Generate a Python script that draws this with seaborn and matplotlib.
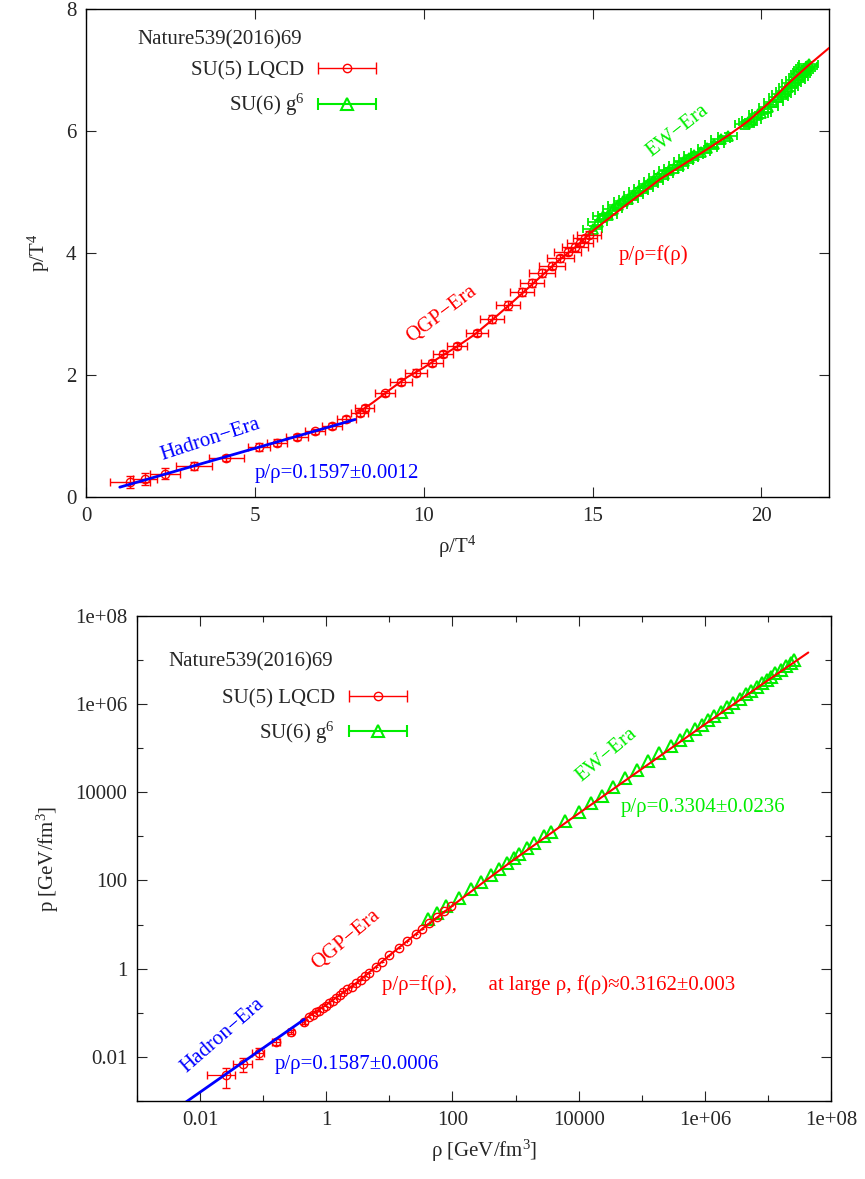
import numpy as np
import seaborn as sns
import matplotlib.pyplot as plt
from matplotlib.container import ErrorbarContainer
from matplotlib.legend_handler import HandlerErrorbar

# ---------------- top panel: p/T^4 vs rho/T^4 ----------------
lqcd_rho = [1.30, 1.75, 2.34, 3.20, 4.15, 5.12, 5.65, 6.25, 6.78, 7.28, 7.70, 8.10,
            8.25, 8.85, 9.33, 9.77, 10.25, 10.57, 10.99, 11.58, 12.02, 12.50, 12.91,
            13.21, 13.50, 13.80, 14.04, 14.27, 14.48, 14.63, 14.78, 14.90]
lqcd_p = [0.25, 0.30, 0.38, 0.51, 0.64, 0.82, 0.89, 0.98, 1.08, 1.17, 1.28, 1.38,
          1.46, 1.70, 1.88, 2.04, 2.20, 2.35, 2.48, 2.69, 2.92, 3.14, 3.36,
          3.51, 3.67, 3.79, 3.91, 4.02, 4.10, 4.17, 4.24, 4.30]
lqcd_rho_err = [0.60, 0.35, 0.45, 0.52, 0.52, 0.32, 0.30, 0.32, 0.30, 0.30, 0.28, 0.25,
                0.28, 0.30, 0.32, 0.32, 0.32, 0.30, 0.30, 0.32, 0.36, 0.36, 0.35,
                0.35, 0.38, 0.38, 0.40, 0.40, 0.38, 0.38, 0.35, 0.35]
lqcd_p_err = [0.10, 0.10, 0.09, 0.07, 0.05, 0.07, 0.06, 0.05, 0.04, 0.05, 0.05, 0.05,
              0.05, 0.04, 0.05, 0.05, 0.05, 0.05, 0.05, 0.05, 0.07, 0.07, 0.06,
              0.06, 0.06, 0.06, 0.06, 0.06, 0.06, 0.06, 0.06, 0.06]

g6_rho = [15.0, 15.15, 15.3, 15.45, 15.6, 15.75, 15.9, 16.05, 16.2, 16.35, 16.5, 16.65,
          16.8, 16.95, 17.1, 17.25, 17.4, 17.55, 17.7, 17.85, 18.0, 18.2, 18.4, 18.6,
          18.8, 19.0, 19.5, 19.6, 19.7, 19.9, 20.0, 20.2, 20.35, 20.5, 20.6, 20.7,
          20.8, 20.9, 21.0, 21.1, 21.15, 21.2, 21.25, 21.3, 21.35, 21.4]
g6_p = [4.40, 4.50, 4.60, 4.62, 4.72, 4.78, 4.85, 4.88, 4.95, 5.02, 5.06, 5.13,
        5.18, 5.25, 5.30, 5.36, 5.40, 5.45, 5.50, 5.55, 5.60, 5.66, 5.72, 5.78,
        5.86, 5.92, 6.12, 6.15, 6.18, 6.27, 6.30, 6.40, 6.47, 6.55, 6.60, 6.65,
        6.72, 6.78, 6.83, 6.88, 6.93, 6.96, 7.00, 7.03, 7.06, 7.09]
g6_rho_err = 0.28
g6_p_err = 0.04

fit_rho = [8.0, 8.5, 9.0, 9.5, 10.0, 10.5, 11.0, 11.5, 12.0, 12.5, 13.0, 13.5, 14.0,
           14.5, 15.0, 16.0, 17.0, 18.0, 19.0, 19.6, 20.2, 20.8, 21.4, 22.0]
fit_p = [1.36, 1.55, 1.76, 1.96, 2.12, 2.30, 2.47, 2.66, 2.89, 3.13, 3.38, 3.63, 3.88,
         4.10, 4.36, 4.79, 5.21, 5.56, 5.92, 6.16, 6.45, 6.78, 7.08, 7.36]
hadron_rho = [1.0, 7.97]
hadron_p = [0.16, 1.27]

# ---------------- bottom panel: p vs rho in GeV/fm^3 (read in decades) ----------------
lq_err_logrho = np.array([-1.594, -1.325, -1.07, -0.80, -0.567, -0.36])
lq_err_logp = np.array([-2.41, -2.16, -1.91, -1.66, -1.43, -1.21])
lq_err_xlo = np.array([0.29, 0.16, 0.10, 0.06, 0.04, 0.03])
lq_err_xhi = np.array([0.15, 0.14, 0.09, 0.06, 0.04, 0.03])
lq_err_ylo = np.array([0.30, 0.18, 0.14, 0.08, 0.05, 0.04])
lq_err_yhi = np.array([0.16, 0.14, 0.11, 0.07, 0.05, 0.04])

lq_logrho = np.array([-0.27, -0.21, -0.16, -0.11, -0.06, 0.00, 0.05, 0.10, 0.155, 0.21,
                      0.26, 0.33, 0.40, 0.47, 0.55, 0.62, 0.68, 0.79, 0.89, 1.00,
                      1.155, 1.28, 1.42, 1.52, 1.63, 1.75, 1.87, 1.98])
lq_logp = np.array([-1.09, -1.04, -0.99, -0.95, -0.90, -0.84, -0.78, -0.73, -0.67, -0.60,
                    -0.53, -0.47, -0.41, -0.33, -0.25, -0.17, -0.10, 0.03, 0.15, 0.30,
                    0.47, 0.62, 0.78, 0.91, 1.04, 1.17, 1.30, 1.42])
lq_dec_err = 0.03

ew_logrho = np.array([1.62, 1.75, 1.90, 2.10, 2.29, 2.45, 2.61, 2.73, 2.86, 2.98, 3.05,
                      3.18, 3.30, 3.45, 3.56, 3.79, 4.00, 4.20, 4.37, 4.55, 4.74, 4.92,
                      5.10, 5.28, 5.47, 5.60, 5.72, 5.85, 5.95, 6.05, 6.15, 6.25, 6.35,
                      6.45, 6.55, 6.65, 6.73, 6.82, 6.90, 6.98, 7.05, 7.12, 7.20, 7.28,
                      7.36, 7.42])
ew_logp = np.array([1.12, 1.26, 1.42, 1.61, 1.80, 1.96, 2.12, 2.26, 2.40, 2.52, 2.60,
                    2.73, 2.86, 3.00, 3.10, 3.34, 3.55, 3.75, 3.92, 4.12, 4.32, 4.50,
                    4.70, 4.88, 5.06, 5.19, 5.30, 5.43, 5.53, 5.63, 5.73, 5.83, 5.93,
                    6.02, 6.12, 6.22, 6.30, 6.39, 6.47, 6.55, 6.62, 6.70, 6.78, 6.86,
                    6.94, 7.00])

fit_logrho = np.array([-0.35, 0.0, 0.5, 1.0, 1.5, 2.0, 2.5, 3.0, 4.0, 5.0, 6.0, 7.0, 7.64])
fit_logp = np.array([-1.15, -0.82, -0.30, 0.30, 0.88, 1.43, 1.97, 2.50, 3.52, 4.53, 5.54,
                     6.54, 7.17])
hadron_logrho = np.array([-2.5, -0.35])
hadron_logp = np.array([-3.30, -1.15])

RED = "#ff0000"
GREEN = "#00ee00"
BLUE = "#0000ff"
FS = 15

sns.set_style("ticks")
plt.rcParams["font.family"] = ["Liberation Serif", "DejaVu Serif"]
plt.rcParams["mathtext.default"] = "regular"
plt.rcParams["font.size"] = FS

fig = plt.figure(figsize=(8.65, 11.79), dpi=100)
ax1 = fig.add_axes([0.0994, 0.5785, 0.859, 0.4139])
ax2 = fig.add_axes([0.1584, 0.0662, 0.8023, 0.4114])

for ax in (ax1, ax2):
    ax.tick_params(direction="in", top=True, right=True, length=7, width=0.8,
                   labelsize=FS, pad=7)
    ax.tick_params(which="minor", direction="in", top=True, right=True, length=4, width=0.8)
    for sp in ax.spines.values():
        sp.set_linewidth(1.0)
        sp.set_color("black")

# ---- top ----
ax1.errorbar(lqcd_rho, lqcd_p, xerr=lqcd_rho_err, yerr=lqcd_p_err, fmt="o", color=RED,
             mfc="none", ms=6, mew=1.0, elinewidth=1.0, capsize=3, zorder=3)
ax1.errorbar(g6_rho, g6_p, xerr=g6_rho_err, yerr=g6_p_err, fmt="^", color=GREEN,
             mfc="none", ms=7, mew=1.3, elinewidth=1.2, capsize=3, zorder=2)
sns.lineplot(x=fit_rho, y=fit_p, ax=ax1, color=RED, lw=1.5, sort=False, estimator=None, zorder=4)
sns.lineplot(x=hadron_rho, y=hadron_p, ax=ax1, color=BLUE, lw=2.0, sort=False, estimator=None, zorder=4)

ax1.set_xlim(0, 22)
ax1.set_ylim(0, 8)
ax1.set_xticks([0, 5, 10, 15, 20])
ax1.set_yticks([0, 2, 4, 6, 8])
ax1.set_xlabel(r"ρ/T$^{4}$", fontsize=FS, labelpad=6)
ax1.set_ylabel(r"p/T$^{4}$", fontsize=FS, labelpad=10)

ax1.text(3.67, 0.94, "Hadron−Era", color=BLUE, rotation=18, rotation_mode="anchor",
         ha="center", va="center", fontsize=FS)
ax1.text(5.0, 0.38, "p/ρ=0.1597±0.0012", color=BLUE, ha="left", va="center", fontsize=FS)
ax1.text(10.54, 2.99, "QGP−Era", color=RED, rotation=37, rotation_mode="anchor",
         ha="center", va="center", fontsize=FS)
ax1.text(16.8, 3.97, "p/ρ=f(ρ)", color=RED, ha="center", va="center", fontsize=FS)
ax1.text(17.5, 6.0, "EW−Era", color=GREEN, rotation=38, rotation_mode="anchor",
         ha="center", va="center", fontsize=FS)

# ---- bottom ----
ax2.set_xscale("log")
ax2.set_yscale("log")
c_rho = 10 ** lq_err_logrho
c_p = 10 ** lq_err_logp
xerr = [c_rho - 10 ** (lq_err_logrho - lq_err_xlo), 10 ** (lq_err_logrho + lq_err_xhi) - c_rho]
yerr = [c_p - 10 ** (lq_err_logp - lq_err_ylo), 10 ** (lq_err_logp + lq_err_yhi) - c_p]
ax2.errorbar(c_rho, c_p, xerr=xerr, yerr=yerr, fmt="o", color=RED, mfc="none", ms=6,
             mew=1.0, elinewidth=0.9, capsize=3, zorder=3)
d_rho = 10 ** lq_logrho
d_p = 10 ** lq_logp
ax2.errorbar(d_rho, d_p,
             xerr=[d_rho - 10 ** (lq_logrho - lq_dec_err), 10 ** (lq_logrho + lq_dec_err) - d_rho],
             yerr=[d_p - 10 ** (lq_logp - lq_dec_err), 10 ** (lq_logp + lq_dec_err) - d_p],
             fmt="o", color=RED, mfc="none", ms=6, mew=1.0, elinewidth=0.8, capsize=0, zorder=3)
ax2.plot(10 ** ew_logrho, 10 ** ew_logp, "^", color=GREEN, mfc="none", ms=9, mew=1.5, zorder=2)
sns.lineplot(x=10 ** fit_logrho, y=10 ** fit_logp, ax=ax2, color=RED, lw=1.5, sort=False,
             estimator=None, zorder=4)
sns.lineplot(x=10 ** hadron_logrho, y=10 ** hadron_logp, ax=ax2, color=BLUE, lw=2.0,
             sort=False, estimator=None, zorder=4)

ax2.set_xlim(1e-3, 1e8)
ax2.set_ylim(1e-3, 1e8)
major = [1e-2, 1, 1e2, 1e4, 1e6, 1e8]
minor = [1e-3, 1e-1, 1e1, 1e3, 1e5, 1e7]
major_labels = ["0.01", "1", "100", "10000", "1e+06", "1e+08"]
ax2.set_xticks(major)
ax2.set_xticklabels(major_labels)
ax2.set_xticks(minor, minor=True)
ax2.set_xticklabels([], minor=True)
ax2.set_yticks(major)
ax2.set_yticklabels(major_labels)
ax2.set_yticks(minor, minor=True)
ax2.set_yticklabels([], minor=True)
ax2.set_xlabel(r"ρ [GeV/fm$^{3}$]", fontsize=FS, labelpad=6)
ax2.set_ylabel(r"p [GeV/fm$^{3}$]", fontsize=FS, labelpad=10)

ax2.text(0.023, 0.030, "Hadron−Era", color=BLUE, rotation=41, rotation_mode="anchor",
         ha="center", va="center", fontsize=FS)
ax2.text(0.151, 0.0066, "p/ρ=0.1587±0.0006", color=BLUE, ha="left", va="center", fontsize=FS)
ax2.text(2.07, 4.5, "QGP−Era", color=RED, rotation=40, rotation_mode="anchor",
         ha="center", va="center", fontsize=FS)
ax2.text(7.7, 0.43, "p/ρ=f(ρ),      at large ρ, f(ρ)≈0.3162±0.003", color=RED,
         ha="left", va="center", fontsize=FS)
ax2.text(2.8e4, 7e4, "EW−Era", color=GREEN, rotation=40, rotation_mode="anchor",
         ha="center", va="center", fontsize=FS)
ax2.text(4.6e4, 4.5e3, "p/ρ=0.3304±0.0236", color=GREEN, ha="left", va="center", fontsize=FS)

# ---- legends (gnuplot style: text right-aligned, errorbar sample on the right) ----
hmap = {ErrorbarContainer: HandlerErrorbar(xerr_size=1.4)}
for ax, tx, ty, lx, ly in [(ax1, 0.0686, 0.936, 0.392, 0.835),
                           (ax2, 0.0447, 0.905, 0.3905, 0.791)]:
    h1 = ax.errorbar([np.nan], [np.nan], xerr=[np.nan], fmt="o", color=RED, mfc="none",
                     ms=6, mew=1.0, elinewidth=1.0, capsize=4, label="SU(5) LQCD")
    h2 = ax.errorbar([np.nan], [np.nan], xerr=[np.nan], fmt="^", color=GREEN, mfc="none",
                     ms=8, mew=1.5, elinewidth=1.5, capsize=4, label=r"SU(6) g$^{6}$")
    ax.legend(handles=[h1, h2], loc="center right", bbox_to_anchor=(lx, ly),
              frameon=False, markerfirst=False, handlelength=2.9, handletextpad=0.6,
              labelspacing=0.55, borderpad=0, borderaxespad=0, fontsize=FS,
              handler_map=hmap)
    ax.text(tx, ty, "Nature539(2016)69", transform=ax.transAxes, ha="left", va="center",
            fontsize=FS)

fig.savefig("out.png", dpi=100)
